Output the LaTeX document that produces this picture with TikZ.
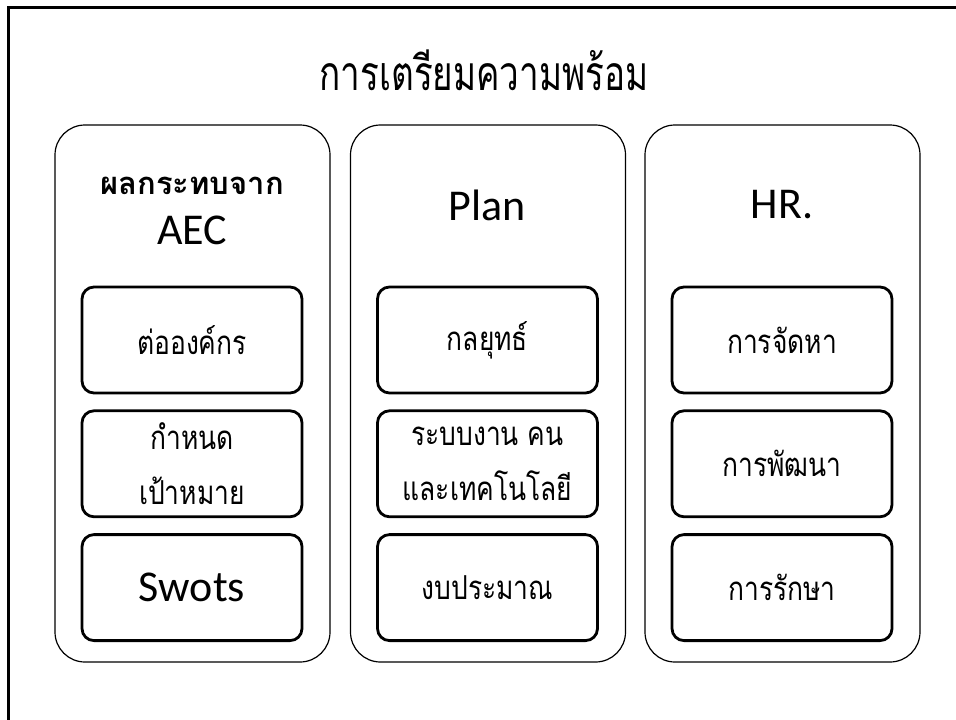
\documentclass[tikz,border=0pt]{standalone}
\usepackage{fontspec}
\setmainfont{Carlito}
\newfontfamily\thaifont[Script=Thai]{Loma}
\newfontfamily\thaicond[Script=Thai,FakeStretch=0.8]{Loma}
\newfontfamily\thaititle[Script=Thai,FakeStretch=0.73]{Loma}
\usetikzlibrary{positioning}
\tikzset{
  column/.style={draw, line width=1.2pt, rounded corners=30pt,
    minimum width=275pt, minimum height=537pt, inner sep=0pt},
  item/.style={draw, line width=2.8pt, rounded corners=12pt,
    minimum width=220pt, minimum height=106pt, inner sep=0pt, align=center,
    font=\thaicond\fontsize{33}{55}\selectfont},
  head/.style={font=\fontsize{44}{44}\selectfont},
}
\begin{document}
\begin{tikzpicture}[x=1pt,y=-1pt]
  \useasboundingbox (0,0) rectangle (956,720);
  % slide frame
  \draw[line width=3pt] (8.5,720) -- (8.5,7.5) -- (956,7.5);
  \node[font=\thaititle\fontsize{48}{48}\selectfont] (title) at (484,70) {การเตรียมความพร้อม};
  % three columns
  \node[column] (aec) at (192.5,393.5) {};
  \node[column] (plan) at (488,393.5) {};
  \node[column] (hr) at (782.5,393.5) {};
  % column heads
  \node[font=\thaifont\bfseries\fontsize{31}{31}\selectfont] (aechead) at (192,186) {ผลกระทบจาก};
  \node[head] (aecname) at (192,230) {AEC};
  \node[head] (planhead) at (487,205) {Plan};
  \node[head] (hrhead) at (782,205) {HR.};
  % boxes
  \node[item] (org) at (192,340) {ต่อองค์กร};
  \node[item, below=15pt of org] (target) {กำหนด\\เป้าหมาย};
  \node[item, below=15pt of target, font=\fontsize{44}{44}\selectfont] (swots) {Swots};
  \node[item] (strategy) at (487.5,340) {กลยุทธ์};
  \node[item, below=15pt of strategy] (system) {ระบบงาน คน\\และเทคโนโลยี};
  \node[item, below=15pt of system] (budget) {งบประมาณ};
  \node[item] (recruit) at (782,340) {การจัดหา};
  \node[item, below=15pt of recruit] (develop) {การพัฒนา};
  \node[item, below=15pt of develop] (retain) {การรักษา};
\end{tikzpicture}
\end{document}
